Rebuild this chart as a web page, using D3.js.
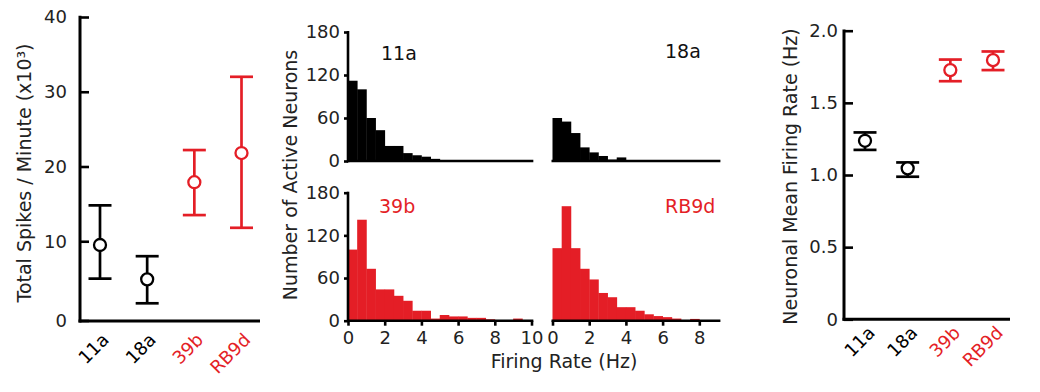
<!DOCTYPE html>
<html><head><meta charset="utf-8">
<script src="https://cdn.jsdelivr.net/npm/d3@7"></script>
<style>
body{margin:0;background:#fff}
svg{display:block}
text{font-family:"DejaVu Sans",sans-serif}
</style>
</head><body>
<svg id="c" width="1040" height="392"></svg>
<script>
// ---------- data ----------
const lines = ["11a", "18a", "39b", "RB9d"];
const redLines = ["39b", "RB9d"];

const spikesMean = [9.5, 4.9, 17.9, 21.8];
const spikesLow  = [5.0, 1.7, 13.5, 11.8];
const spikesHigh = [14.8, 8.0, 22.2, 32.0];
const spikeTicks = [0, 10, 20, 30, 40];

const rateMean = [1.237, 1.046, 1.727, 1.796];
const rateLow  = [1.174, 0.988, 1.650, 1.727];
const rateHigh = [1.295, 1.087, 1.800, 1.856];
const rateTicks = [0, 0.5, 1.0, 1.5, 2.0];
const rateTickLabels = ["0", "0.5", "1.0", "1.5", "2.0"];

const binStarts = [0,0.5,1,1.5,2,2.5,3,3.5,4,4.5,5,5.5,6,6.5,7,7.5,8,8.5,9,9.5];
const binWidth = 0.5;
const hist11a  = [112,100,60,43,21,21,11,8,6,3,0,0,0,0,0,0,0,0,0,0];
const hist18a  = [60,55,39,19,12,7,2,5,0,0,0,0,0,0,0,0,0,0,0,0];
const hist39b  = [100,142,73,44,44,35,28,14,14,3,8,6,6,4,4,2,0,0,3,0];
const histRB9d = [102,161,102,73,58,39,33,19,19,14,9,6.5,5,3,1,2.5,0,0,0,0];
const countTicks = [0, 60, 120, 180];
const hzTicksLeft = [0, 2, 4, 6, 8, 10];
const hzTicksRight = [0, 2, 4, 6, 8];

// ---------- drawing ----------
const RED = "#e41e26";
const colorOf = n => redLines.includes(n) ? RED : "#000";
const svg = d3.select("#c");

function tidyAxis(g, fs) {
  g.select(".domain").remove();
  g.selectAll(".tick line").attr("stroke", "#000").attr("stroke-width", 2.6);
  g.selectAll(".tick text").attr("fill", "#222").style("font-size", fs + "px")
    .style("font-family", '"DejaVu Sans",sans-serif');
}

// ===== Left panel: total spikes =====
{
  const x = d3.scalePoint().domain(lines).range([100, 241.5]);
  const y = d3.scaleLinear().domain([0, 40]).range([316, 17]);
  const axisX = 80, baseY = 321;
  const g = svg.append("g");
  g.append("g").attr("transform", `translate(${axisX},0)`)
    .call(d3.axisLeft(y).tickValues(spikeTicks).tickFormat(d3.format("d"))
      .tickSize(-9).tickPadding(13))
    .call(a => tidyAxis(a, 18))
    .call(a => a.selectAll(".tick").filter(d => d === 0).attr("transform", `translate(0,${baseY})`));
  g.append("line").attr("x1", axisX).attr("x2", axisX).attr("y1", y(40) - 1.3).attr("y2", baseY + 1.5)
    .attr("stroke", "#000").attr("stroke-width", 3);
  g.append("line").attr("x1", axisX - 1.5).attr("x2", 260).attr("y1", baseY).attr("y2", baseY)
    .attr("stroke", "#000").attr("stroke-width", 3);

  lines.forEach((n, i) => {
    const c = colorOf(n), cx = x(n);
    g.append("line").attr("x1", cx).attr("x2", cx).attr("y1", y(spikesLow[i])).attr("y2", y(spikesHigh[i]))
      .attr("stroke", c).attr("stroke-width", 2.7);
    [spikesLow[i], spikesHigh[i]].forEach(v => g.append("line")
      .attr("x1", cx - 11.5).attr("x2", cx + 11.5).attr("y1", y(v)).attr("y2", y(v))
      .attr("stroke", c).attr("stroke-width", 2.7));
    g.append("circle").attr("cx", cx).attr("cy", y(spikesMean[i])).attr("r", 6)
      .attr("fill", "#fff").attr("stroke", c).attr("stroke-width", 2.3);
    g.append("text").attr("transform", `translate(${cx + 10},341) rotate(-45)`)
      .attr("text-anchor", "end").attr("fill", c).style("font-size", "18px").text(n);
  });
  g.append("text").attr("transform", "translate(31,173) rotate(-90)").attr("text-anchor", "middle")
    .attr("fill", "#222").style("font-size", "19px").text("Total Spikes / Minute (x10³)");
}

// ===== Middle: histograms =====
{
  const panels = [
    {name: "11a",  data: hist11a,  col: 0, row: 0},
    {name: "18a",  data: hist18a,  col: 1, row: 0},
    {name: "39b",  data: hist39b,  col: 0, row: 1},
    {name: "RB9d", data: histRB9d, col: 1, row: 1}
  ];
  const xRanges = [[348, 531.5], [552.5, 736]];
  const xEnd = [10.1, 9.15];
  const yRanges = [[161, 32], [320.7, 192.7]];
  const labelPos = [[[381, 60], [665, 58]], [[379, 212.7], [665, 212.7]]];

  panels.forEach(p => {
    const x = d3.scaleLinear().domain([0, 10]).range(xRanges[p.col]);
    const y = d3.scaleLinear().domain([0, 180]).range(yRanges[p.row]);
    const c = colorOf(p.name);
    const g = svg.append("g");
    g.selectAll("rect").data(p.data).join("rect")
      .attr("x", (d, i) => x(binStarts[i]))
      .attr("width", (d, i) => x(binStarts[i] + binWidth) - x(binStarts[i]) + 0.4)
      .attr("y", d => y(d)).attr("height", d => y(0) - y(d))
      .attr("fill", c);
    // baseline
    g.append("line").attr("x1", x(0) - (p.col === 0 ? 1 : 1)).attr("x2", x(xEnd[p.col]))
      .attr("y1", y(0)).attr("y2", y(0)).attr("stroke", "#000").attr("stroke-width", 2.6);
    if (p.col === 0) {
      g.append("g").attr("transform", `translate(${x(0)},0)`)
        .call(d3.axisLeft(y).tickValues(countTicks).tickSize(4).tickPadding(4))
        .call(a => tidyAxis(a, 18));
      g.append("line").attr("x1", x(0)).attr("x2", x(0)).attr("y1", y(180) - 1).attr("y2", y(0) + 1.3)
        .attr("stroke", "#000").attr("stroke-width", 2.6);
    }
    if (p.row === 1) {
      g.append("g").attr("transform", `translate(0,${y(0)})`)
        .call(d3.axisBottom(x).tickValues(p.col === 0 ? hzTicksLeft : hzTicksRight)
          .tickSize(5).tickPadding(6))
        .call(a => tidyAxis(a, 18));
    }
    g.append("text").attr("x", labelPos[p.row][p.col][0]).attr("y", labelPos[p.row][p.col][1])
      .attr("fill", p.name === "11a" || p.name === "18a" ? "#111" : c)
      .style("font-size", "19px").text(p.name);
  });
  svg.append("text").attr("transform", "translate(297,175) rotate(-90)").attr("text-anchor", "middle")
    .attr("fill", "#222").style("font-size", "19px").text("Number of Active Neurons");
  svg.append("text").attr("x", 564).attr("y", 368).attr("text-anchor", "middle")
    .attr("fill", "#222").style("font-size", "19px").text("Firing Rate (Hz)");
}

// ===== Right panel: mean firing rate =====
{
  const x = d3.scalePoint().domain(lines).range([865, 993]);
  const y = d3.scaleLinear().domain([0, 2]).range([319.3, 30.7]);
  const axisX = 844;
  const g = svg.append("g");
  g.append("g").attr("transform", `translate(${axisX},0)`)
    .call(d3.axisLeft(y).tickValues(rateTicks).tickFormat((d, i) => rateTickLabels[i])
      .tickSize(-9).tickPadding(6))
    .call(a => tidyAxis(a, 18));
  g.append("line").attr("x1", axisX).attr("x2", axisX).attr("y1", y(2) - 1.3).attr("y2", y(0) + 1.5)
    .attr("stroke", "#000").attr("stroke-width", 3);
  g.append("line").attr("x1", axisX - 1.5).attr("x2", 1010).attr("y1", y(0)).attr("y2", y(0))
    .attr("stroke", "#000").attr("stroke-width", 3);

  lines.forEach((n, i) => {
    const c = colorOf(n), cx = x(n);
    g.append("line").attr("x1", cx).attr("x2", cx).attr("y1", y(rateLow[i])).attr("y2", y(rateHigh[i]))
      .attr("stroke", c).attr("stroke-width", 2.7);
    [rateLow[i], rateHigh[i]].forEach(v => g.append("line")
      .attr("x1", cx - 11.5).attr("x2", cx + 11.5).attr("y1", y(v)).attr("y2", y(v))
      .attr("stroke", c).attr("stroke-width", 2.7));
    g.append("circle").attr("cx", cx).attr("cy", y(rateMean[i])).attr("r", 6)
      .attr("fill", "#fff").attr("stroke", c).attr("stroke-width", 2.3);
    g.append("text").attr("transform", `translate(${cx + 11},334) rotate(-45)`)
      .attr("text-anchor", "end").attr("fill", c).style("font-size", "18px").text(n);
  });
  g.append("text").attr("transform", "translate(797,176.5) rotate(-90)").attr("text-anchor", "middle")
    .attr("fill", "#222").style("font-size", "19px").text("Neuronal Mean Firing Rate (Hz)");
}
</script>
</body></html>
